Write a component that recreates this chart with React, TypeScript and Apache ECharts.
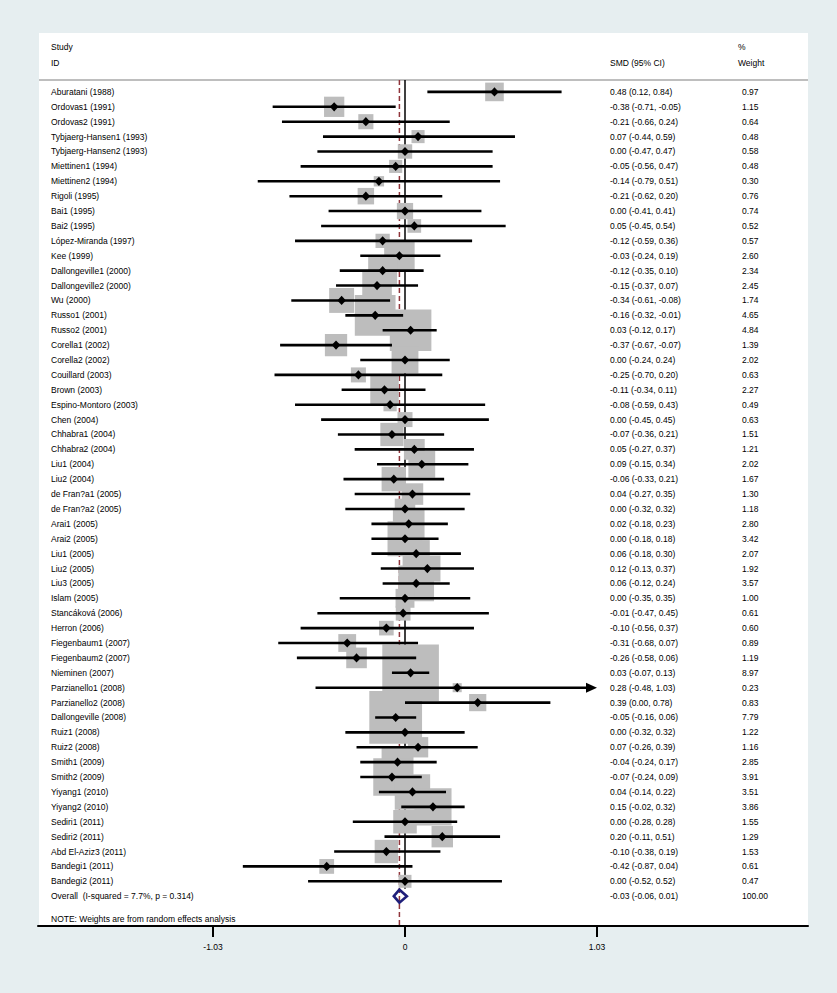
import React, { useEffect, useRef } from "react";
import * as echarts from "echarts";

const studies = [
  "Aburatani (1988)", "Ordovas1 (1991)", "Ordovas2 (1991)", "Tybjaerg-Hansen1 (1993)",
  "Tybjaerg-Hansen2 (1993)", "Miettinen1 (1994)", "Miettinen2 (1994)", "Rigoli (1995)",
  "Bai1 (1995)", "Bai2 (1995)", "López-Miranda (1997)", "Kee (1999)",
  "Dallongeville1 (2000)", "Dallongeville2 (2000)", "Wu (2000)", "Russo1 (2001)",
  "Russo2 (2001)", "Corella1 (2002)", "Corella2 (2002)", "Couillard (2003)",
  "Brown (2003)", "Espino-Montoro (2003)", "Chen (2004)", "Chhabra1 (2004)",
  "Chhabra2 (2004)", "Liu1 (2004)", "Liu2 (2004)", "de Fran?a1 (2005)",
  "de Fran?a2 (2005)", "Arai1 (2005)", "Arai2 (2005)", "Liu1 (2005)",
  "Liu2 (2005)", "Liu3 (2005)", "Islam (2005)", "Stancáková (2006)",
  "Herron (2006)", "Fiegenbaum1 (2007)", "Fiegenbaum2 (2007)", "Nieminen (2007)",
  "Parzianello1 (2008)", "Parzianello2 (2008)", "Dallongeville (2008)", "Ruiz1 (2008)",
  "Ruiz2 (2008)", "Smith1 (2009)", "Smith2 (2009)", "Yiyang1 (2010)",
  "Yiyang2 (2010)", "Sediri1 (2011)", "Sediri2 (2011)", "Abd El-Aziz3 (2011)",
  "Bandegi1 (2011)", "Bandegi2 (2011)",
];

const smd = [
  0.48, -0.38, -0.21, 0.07, 0.0, -0.05, -0.14, -0.21, 0.0, 0.05, -0.12, -0.03,
  -0.12, -0.15, -0.34, -0.16, 0.03, -0.37, 0.0, -0.25, -0.11, -0.08, 0.0, -0.07,
  0.05, 0.09, -0.06, 0.04, 0.0, 0.02, 0.0, 0.06, 0.12, 0.06, 0.0, -0.01,
  -0.1, -0.31, -0.26, 0.03, 0.28, 0.39, -0.05, 0.0, 0.07, -0.04, -0.07, 0.04,
  0.15, 0.0, 0.2, -0.1, -0.42, 0.0,
];

const ciLow = [
  0.12, -0.71, -0.66, -0.44, -0.47, -0.56, -0.79, -0.62, -0.41, -0.45, -0.59, -0.24,
  -0.35, -0.37, -0.61, -0.32, -0.12, -0.67, -0.24, -0.7, -0.34, -0.59, -0.45, -0.36,
  -0.27, -0.15, -0.33, -0.27, -0.32, -0.18, -0.18, -0.18, -0.13, -0.12, -0.35, -0.47,
  -0.56, -0.68, -0.58, -0.07, -0.48, 0.0, -0.16, -0.32, -0.26, -0.24, -0.24, -0.14,
  -0.02, -0.28, -0.11, -0.38, -0.87, -0.52,
];

const ciHigh = [
  0.84, -0.05, 0.24, 0.59, 0.47, 0.47, 0.51, 0.2, 0.41, 0.54, 0.36, 0.19,
  0.1, 0.07, -0.08, -0.01, 0.17, -0.07, 0.24, 0.2, 0.11, 0.43, 0.45, 0.21,
  0.37, 0.34, 0.21, 0.35, 0.32, 0.23, 0.18, 0.3, 0.37, 0.24, 0.35, 0.45,
  0.37, 0.07, 0.06, 0.13, 1.03, 0.78, 0.06, 0.32, 0.39, 0.17, 0.09, 0.22,
  0.32, 0.28, 0.51, 0.19, 0.04, 0.52,
];

const weights = [
  0.97, 1.15, 0.64, 0.48, 0.58, 0.48, 0.3, 0.76, 0.74, 0.52, 0.57, 2.6,
  2.34, 2.45, 1.74, 4.65, 4.84, 1.39, 2.02, 0.63, 2.27, 0.49, 0.63, 1.51,
  1.21, 2.02, 1.67, 1.3, 1.18, 2.8, 3.42, 2.07, 1.92, 3.57, 1.0, 0.61,
  0.6, 0.89, 1.19, 8.97, 0.23, 0.83, 7.79, 1.22, 1.16, 2.85, 3.91, 3.51,
  3.86, 1.55, 1.29, 1.53, 0.61, 0.47,
];

const overallLabel = "Overall  (I-squared = 7.7%, p = 0.314)";
const overallSmd = -0.03;
const overallLow = -0.06;
const overallHigh = 0.01;
const overallWeight = 100.0;

const xTicks = [-1.03, 0, 1.03];
const headerLeft = ["Study", "ID"];
const headerCI = "SMD (95% CI)";
const headerWeight = ["%", "Weight"];
const noteText = "NOTE: Weights are from random effects analysis";

const FONT = "'Liberation Sans', Arial, Helvetica, sans-serif";
const FS = 8.5;

export default function App() {
  const ref = useRef<HTMLDivElement>(null);

  useEffect(() => {
    document.body.style.margin = "0";
    const el = ref.current!;
    const chart = echarts.init(el, null, { renderer: "svg" });

    const W = 837;
    const H = 993;
    const panelL = 39;
    const panelR = 808;
    const panelT = 33;
    const axisY = 926;
    const zeroX = 405;
    const tickMax = xTicks[xTicks.length - 1];
    const unitPx = (597 - zeroX) / tickMax;
    const gridL = 38;
    const xMin = -(zeroX - gridL) / unitPx;
    const xMax = (panelR - zeroX) / unitPx;
    const yMin = -0.8;
    const yMax = 56;

    const studyData = studies.map((s, i) => [i, smd[i], ciLow[i], ciHigh[i], weights[i]]);
    const allData = [
      ...studyData,
      [studies.length, overallSmd, overallLow, overallHigh, overallWeight],
    ];

    const labelX = 51;
    const ciX = 610;
    const wX = 742;
    const boxK = 18.9;

    const txt = (text: string, x: number, y: number, extra: any = {}) => ({
      type: "text",
      x,
      y,
      style: {
        text,
        fill: "#000",
        font: `${FS}px ${FONT}`,
        align: "left",
        verticalAlign: "middle",
        ...extra,
      },
    });

    const option: any = {
      animation: false,
      backgroundColor: "#e6eef0",
      grid: {
        left: gridL,
        right: W - panelR,
        top: 80,
        bottom: H - axisY,
        containLabel: false,
      },
      xAxis: {
        type: "value",
        min: xMin,
        max: xMax,
        axisLine: { show: true, onZero: false, lineStyle: { color: "#000", width: 2 } },
        axisTick: {
          show: true,
          customValues: xTicks,
          length: 11,
          lineStyle: { color: "#000", width: 2 },
        },
        axisLabel: {
          show: true,
          customValues: xTicks,
          margin: 16,
          fontSize: FS,
          fontFamily: FONT,
          color: "#000",
          formatter: (v: number) => (v === 0 ? "0" : v.toFixed(2)),
        },
        splitLine: { show: false },
      },
      yAxis: {
        type: "value",
        inverse: true,
        min: yMin,
        max: yMax,
        show: false,
        splitLine: { show: false },
      },
      graphic: [
        {
          type: "rect",
          z: -10,
          shape: { x: panelL, y: panelT, width: panelR - panelL, height: axisY - panelT },
          style: { fill: "#ffffff" },
        },
        {
          type: "line",
          z: -9,
          shape: { x1: panelL, y1: 80, x2: panelR, y2: 80 },
          style: { stroke: "#a9a9a9", lineWidth: 1.5 },
        },
        txt(headerLeft[0], labelX, 47),
        txt(headerLeft[1], labelX, 63),
        txt(headerCI, ciX, 63),
        txt(headerWeight[0], 738, 47),
        txt(headerWeight[1], 738, 63),
        txt(noteText, labelX, 919),
      ],
      series: [
        {
          type: "custom",
          name: "zero",
          z: 1,
          data: [[0, yMin, studies.length - 0.5]],
          renderItem: (params: any, api: any) => {
            const p1 = api.coord([api.value(0), api.value(1)]);
            const p2 = api.coord([api.value(0), api.value(2)]);
            return {
              type: "line",
              shape: { x1: p1[0], y1: p1[1], x2: p2[0], y2: p2[1] },
              style: { stroke: "#000", lineWidth: 1.5 },
            };
          },
        },
        {
          type: "custom",
          name: "overallLine",
          z: 1,
          data: [[overallSmd, yMin, yMax]],
          renderItem: (params: any, api: any) => {
            const p1 = api.coord([api.value(0), api.value(1)]);
            const p2 = api.coord([api.value(0), api.value(2)]);
            return {
              type: "line",
              shape: { x1: p1[0], y1: p1[1], x2: p2[0], y2: p2[1] },
              style: { stroke: "#90353b", lineWidth: 1.5, lineDash: [5, 3] },
            };
          },
        },
        {
          type: "custom",
          name: "boxes",
          z: 2,
          data: studyData,
          renderItem: (params: any, api: any) => {
            const c = api.coord([api.value(1), api.value(0)]);
            const s = boxK * Math.sqrt(api.value(4));
            return {
              type: "rect",
              shape: { x: c[0] - s / 2, y: c[1] - s / 2, width: s, height: s },
              style: { fill: "#bdbdbd" },
            };
          },
        },
        {
          type: "custom",
          name: "studies",
          z: 3,
          data: allData,
          renderItem: (params: any, api: any) => {
            const i = api.value(0);
            const est = api.value(1);
            const lo = api.value(2);
            const hi = api.value(3);
            const w = api.value(4);
            const c = api.coord([est, i]);
            const pLo = api.coord([Math.max(lo, -tickMax), i]);
            const pHi = api.coord([Math.min(hi, tickMax), i]);
            const isOverall = i === studies.length;
            const label = isOverall ? overallLabel : studies[i];
            const ciText = `${est.toFixed(2)} (${lo.toFixed(2)}, ${hi.toFixed(2)})`;
            const children: any[] = [];
            if (isOverall) {
              children.push({
                type: "polygon",
                shape: {
                  points: [
                    [pLo[0], c[1]],
                    [c[0], c[1] - 6.5],
                    [pHi[0], c[1]],
                    [c[0], c[1] + 6.5],
                  ],
                },
                style: { fill: "none", stroke: "#1f1f7a", lineWidth: 2.6 },
              });
            } else {
              const arrow = hi >= tickMax;
              children.push({
                type: "line",
                shape: { x1: pLo[0], y1: c[1], x2: arrow ? pHi[0] - 8 : pHi[0], y2: c[1] },
                style: { stroke: "#000", lineWidth: 2.6 },
              });
              if (arrow) {
                children.push({
                  type: "polygon",
                  shape: {
                    points: [
                      [pHi[0] - 11, c[1] - 5],
                      [pHi[0], c[1]],
                      [pHi[0] - 11, c[1] + 5],
                    ],
                  },
                  style: { fill: "#000" },
                });
              }
              children.push({
                type: "polygon",
                shape: {
                  points: [
                    [c[0] - 4.3, c[1]],
                    [c[0], c[1] - 4.6],
                    [c[0] + 4.3, c[1]],
                    [c[0], c[1] + 4.6],
                  ],
                },
                style: { fill: "#000" },
              });
            }
            children.push(txt(label, labelX, c[1]));
            children.push(txt(ciText, ciX, c[1]));
            children.push(txt(w.toFixed(2), wX, c[1]));
            return { type: "group", children };
          },
        },
      ],
    };

    chart.setOption(option);
    return () => {
      chart.dispose();
    };
  }, []);

  return (
    <div
      ref={ref}
      style={{ position: "absolute", left: 0, top: 0, width: 837, height: 993 }}
    />
  );
}
